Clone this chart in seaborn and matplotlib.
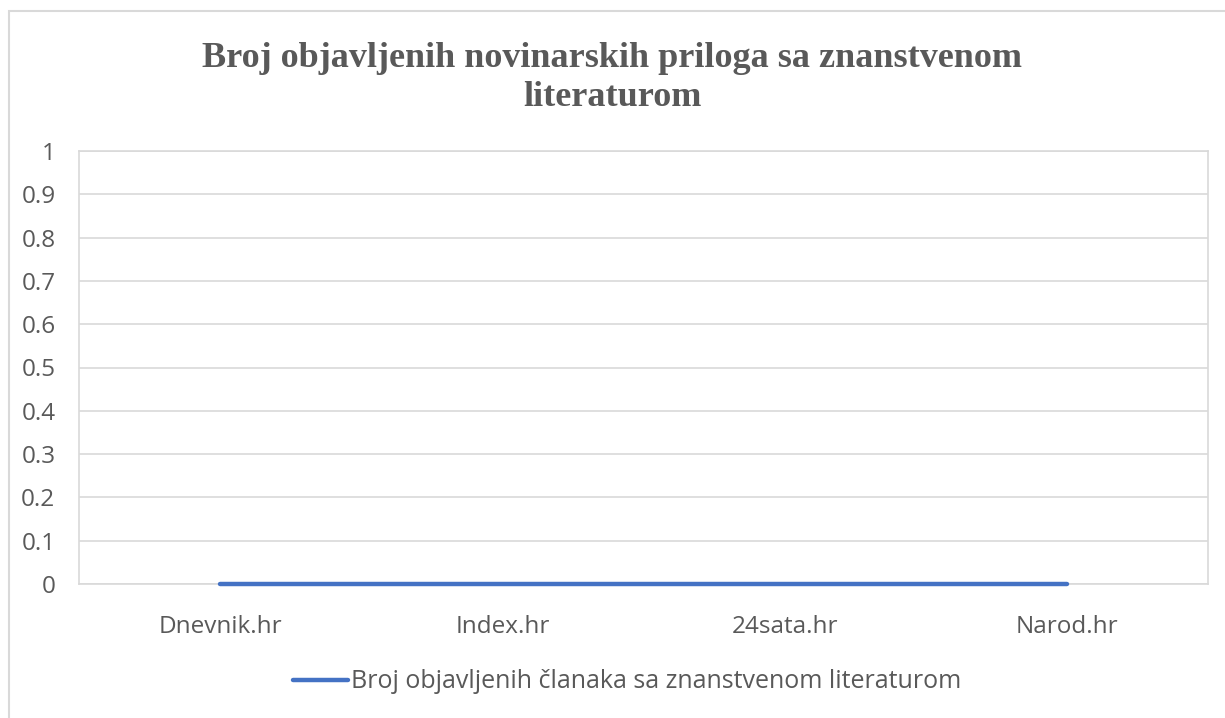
import pandas as pd
import matplotlib
matplotlib.use('Agg')
import matplotlib.pyplot as plt
import matplotlib.patches as mpatches
import seaborn as sns

# ── DATA ──────────────────────────────────────────────────────────────────────
portali = ['Dnevnik.hr', 'Index.hr', '24sata.hr', 'Narod.hr']
broj_clanaka = [0, 0, 0, 0]
naziv_serije = 'Broj objavljenih članaka sa znanstvenom literaturom'
naslov = 'Broj objavljenih novinarskih priloga sa znanstvenom\nliteraturom'
y_ticks = [0, 0.1, 0.2, 0.3, 0.4, 0.5, 0.6, 0.7, 0.8, 0.9, 1]

df = pd.DataFrame({'portal': portali, 'broj': broj_clanaka})

# ── STYLE ─────────────────────────────────────────────────────────────────────
sns.set_style('white')
plt.rcParams['font.family'] = ['Open Sans', 'DejaVu Sans']
siva_tekst = '#595959'
siva_linija = '#d9d9d9'

fig = plt.figure(figsize=(12.25, 7.18), dpi=100)
ax = fig.add_axes([79 / 1225, 1 - 584 / 718, 1129 / 1225, 433 / 718])

# okvir grafikona
fig.patches.append(mpatches.Rectangle((9 / 1225, -0.05), 1.1, 1 - 11 / 718 + 0.05,
                                      transform=fig.transFigure, fill=False,
                                      edgecolor=siva_linija, linewidth=1.5))

sns.lineplot(data=df, x='portal', y='broj', ax=ax, color='#4472C4',
             linewidth=3.2, solid_capstyle='round', label=naziv_serije, sort=False)
for ln in ax.lines:
    ln.set_clip_on(False)
    ln.set_zorder(5)

ax.set_xlim(-0.5, 3.5)
ax.set_ylim(0, 1)
ax.set_yticks(y_ticks)
ax.set_yticklabels([f'{v:g}' for v in y_ticks])
ax.grid(axis='y', color=siva_linija, linewidth=1.2)
ax.set_axisbelow(True)
for s in ax.spines.values():
    s.set_color(siva_linija)
    s.set_linewidth(1.2)
ax.tick_params(axis='both', length=0, labelsize=17.5, colors=siva_tekst)
ax.tick_params(axis='x', pad=22)
ax.tick_params(axis='y', pad=17)
ax.set_xlabel('')
ax.set_ylabel('')

fig.text(0.5, 1 - 78 / 718, naslov, ha='center', va='center',
         fontsize=26, fontweight='bold', color=siva_tekst,
         family='Liberation Serif', linespacing=1.25)

ax.legend(loc='center', bbox_to_anchor=(627 / 1225, 1 - 682 / 718),
          bbox_transform=fig.transFigure, frameon=False, fontsize=18,
          labelcolor=siva_tekst, handlelength=2.2, handletextpad=0.1)

plt.savefig('out.png', dpi=100)
plt.close()
